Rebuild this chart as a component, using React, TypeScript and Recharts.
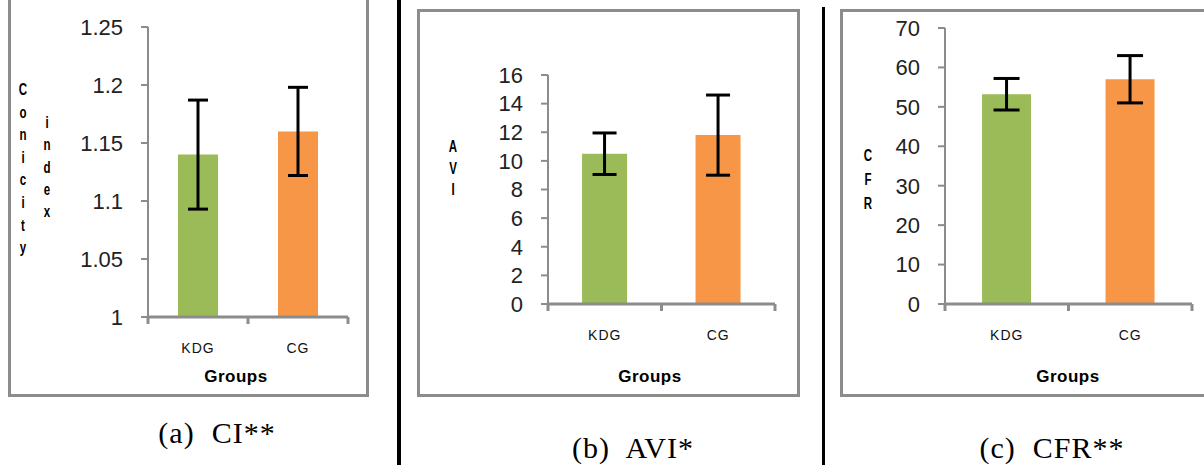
import React from "react";
import { BarChart, Bar, Cell, XAxis, YAxis, ErrorBar } from "recharts";

const groups = ["KDG", "CG"];
const barColors = ["#9bbb59", "#f79646"];

const ciMeans = [1.14, 1.16];
const ciErr = [0.047, 0.038];
const ciTicks = [1, 1.05, 1.1, 1.15, 1.2, 1.25];

const aviMeans = [10.5, 11.8];
const aviErr = [1.45, 2.8];
const aviTicks = [0, 2, 4, 6, 8, 10, 12, 14, 16];

const cfrMeans = [53.2, 57];
const cfrErr = [4, 6];
const cfrTicks = [0, 10, 20, 30, 40, 50, 60, 70];

const AXIS = "#8c8c8c";
const CHART_H = 400;
const XAXIS_H = 30;

interface PanelProps {
  left: number;
  width: number;
  yAxisWidth: number;
  top: number;
  right: number;
  plotBottom: number;
  means: number[];
  errs: number[];
  ticks: number[];
  errWidth: number;
}

function Panel({ left, width, yAxisWidth, top, right, plotBottom, means, errs, ticks, errWidth }: PanelProps) {
  const data = groups.map((g, i) => ({ name: g, value: means[i], err: errs[i] }));
  const plotW = width - yAxisWidth - right;
  const band = plotW / groups.length;

  const renderTick = (p: any) => {
    const { x, y, payload, index } = p;
    const half = band / 2;
    return (
      <g>
        <line x1={x - half} x2={x - half} y1={y} y2={y + 7} stroke={AXIS} strokeWidth={3} />
        {index === groups.length - 1 && (
          <line x1={x + half} x2={x + half} y1={y} y2={y + 7} stroke={AXIS} strokeWidth={3} />
        )}
        <text
          x={x}
          y={y + 32}
          textAnchor="middle"
          dominantBaseline="middle"
          fontSize={14}
          letterSpacing={1}
          fontFamily="Liberation Sans, Arial, sans-serif"
          fill="#111"
        >
          {payload.value}
        </text>
      </g>
    );
  };

  return (
    <div style={{ position: "absolute", left, top: 0 }}>
      <BarChart
        width={width}
        height={CHART_H}
        data={data}
        margin={{ top, right, left: 0, bottom: CHART_H - plotBottom - XAXIS_H }}
        barCategoryGap="30%"
      >
        <XAxis
          dataKey="name"
          height={XAXIS_H}
          tickSize={0}
          tickMargin={0}
          tickLine={false}
          axisLine={{ stroke: AXIS, strokeWidth: 3 }}
          tick={renderTick}
          interval={0}
        />
        <YAxis
          width={yAxisWidth}
          domain={[ticks[0], ticks[ticks.length - 1]]}
          ticks={ticks}
          interval={0}
          tickSize={7}
          tickMargin={18}
          axisLine={{ stroke: AXIS, strokeWidth: 2 }}
          tickLine={{ stroke: AXIS, strokeWidth: 2 }}
          tick={{ fontSize: 22, fill: "#222", fontFamily: "Liberation Sans, Arial, sans-serif" }}
        />
        <Bar dataKey="value" isAnimationActive={false}>
          {data.map((d, i) => (
            <Cell key={d.name} fill={barColors[i]} />
          ))}
          <ErrorBar dataKey="err" width={errWidth} strokeWidth={3} stroke="#000" isAnimationActive={false} />
        </Bar>
      </BarChart>
    </div>
  );
}

function StackedLabel({ text, x, y, gap }: { text: string; x: number; y: number; gap: number }) {
  return (
    <div style={{ position: "absolute", left: x - 10, top: y - 10, width: 20 }}>
      {text.split("").map((ch, i) => (
        <div
          key={i}
          style={{
            height: gap,
            lineHeight: "20px",
            textAlign: "center",
            fontSize: 16,
            fontWeight: "bold",
            fontFamily: "Liberation Sans, Arial, sans-serif",
            transform: "scaleX(0.72)",
          }}
        >
          {ch}
        </div>
      ))}
    </div>
  );
}

function Caption({ text, cx, cy }: { text: string; cx: number; cy: number }) {
  return (
    <div
      style={{
        position: "absolute",
        left: cx - 100,
        top: cy - 18,
        width: 200,
        height: 36,
        lineHeight: "36px",
        textAlign: "center",
        fontFamily: "Liberation Serif, Times New Roman, serif",
        fontSize: 30,
        letterSpacing: 1,
        whiteSpace: "pre",
      }}
    >
      {text}
    </div>
  );
}

function GroupsTitle({ cx }: { cx: number }) {
  return (
    <div
      style={{
        position: "absolute",
        left: cx - 60,
        top: 366,
        width: 120,
        lineHeight: "22px",
        textAlign: "center",
        fontFamily: "Liberation Sans, Arial, sans-serif",
        fontWeight: "bold",
        fontSize: 17,
        letterSpacing: 0.5,
      }}
    >
      Groups
    </div>
  );
}

export default function App() {
  return (
    <div
      style={{
        position: "absolute",
        left: 0,
        top: 0,
        width: 1204,
        height: 465,
        background: "#fff",
        overflow: "hidden",
      }}
    >
      {/* frames */}
      <div style={{ position: "absolute", left: 8, top: -6, width: 355, height: 397, border: `3px solid ${AXIS}` }} />
      <div style={{ position: "absolute", left: 417, top: 9, width: 377, height: 382, border: `3px solid ${AXIS}` }} />
      <div style={{ position: "absolute", left: 840, top: 9, width: 400, height: 382, border: `3px solid ${AXIS}` }} />

      {/* dividers */}
      <div style={{ position: "absolute", left: 397, top: 0, width: 4, height: 465, background: "#000" }} />
      <div style={{ position: "absolute", left: 822, top: 7, width: 3, height: 458, background: "#000" }} />

      <Panel
        left={0}
        width={400}
        yAxisWidth={148}
        top={27}
        right={52}
        plotBottom={317}
        means={ciMeans}
        errs={ciErr}
        ticks={ciTicks}
        errWidth={10}
      />
      <Panel
        left={400}
        width={400}
        yAxisWidth={148}
        top={75}
        right={25}
        plotBottom={304}
        means={aviMeans}
        errs={aviErr}
        ticks={aviTicks}
        errWidth={12}
      />
      <Panel
        left={810}
        width={394}
        yAxisWidth={135}
        top={28}
        right={12}
        plotBottom={304}
        means={cfrMeans}
        errs={cfrErr}
        ticks={cfrTicks}
        errWidth={13}
      />

      <StackedLabel text="Conicity" x={23} y={90} gap={22.6} />
      <StackedLabel text="index" x={47} y={123} gap={22.3} />
      <StackedLabel text="AVI" x={453} y={147} gap={21.5} />
      <StackedLabel text="CFR" x={868} y={156} gap={24} />

      <GroupsTitle cx={236} />
      <GroupsTitle cx={650} />
      <GroupsTitle cx={1068} />

      <Caption text="(a)  CI**" cx={217} cy={433} />
      <Caption text="(b)  AVI*" cx={633} cy={448} />
      <Caption text="(c)  CFR**" cx={1052} cy={448} />
    </div>
  );
}
